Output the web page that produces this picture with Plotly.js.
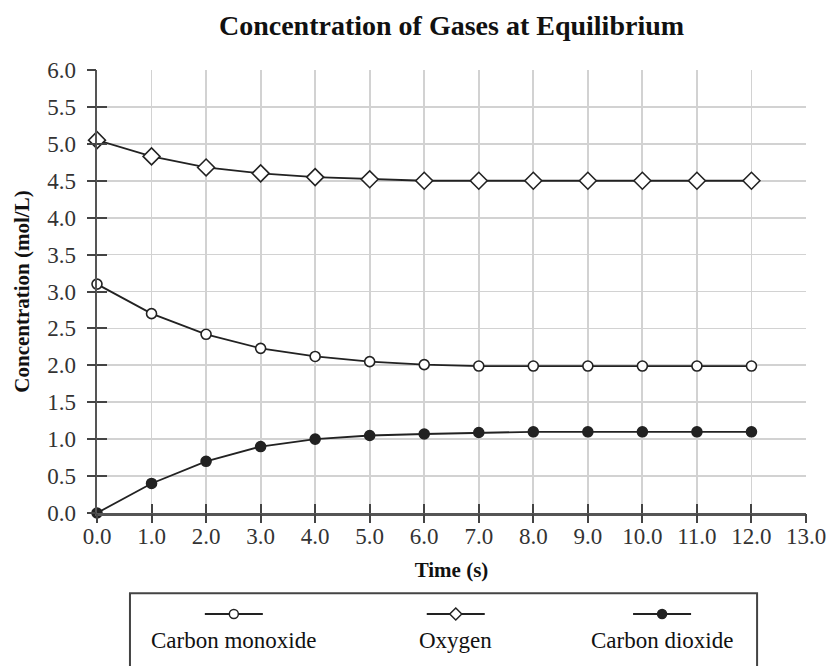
<!DOCTYPE html>
<html><head><meta charset="utf-8">
<script src="https://cdn.plot.ly/plotly-3.0.1.min.js"></script>
<style>body{margin:0;background:#fff}#chart{width:830px;height:666px}</style>
</head><body><div id="chart"></div>
<script>
const time = [0,1,2,3,4,5,6,7,8,9,10,11,12];
const carbonMonoxide = [3.1,2.7,2.42,2.23,2.12,2.05,2.01,1.99,1.99,1.99,1.99,1.99,1.99];
const oxygen = [5.05,4.83,4.68,4.6,4.55,4.52,4.5,4.5,4.5,4.5,4.5,4.5,4.5];
const carbonDioxide = [0,0.4,0.7,0.9,1.0,1.05,1.07,1.09,1.1,1.1,1.1,1.1,1.1];
const seriesNames = ["Carbon monoxide","Oxygen","Carbon dioxide"];
const xTicks = [0,1,2,3,4,5,6,7,8,9,10,11,12,13];
const yTicks = [0,0.5,1,1.5,2,2.5,3,3.5,4,4.5,5,5.5,6];

const serif = "Liberation Serif, Times New Roman, serif";
const ink = '#222';
const lineStyle = {color:ink, width:1.8};
function tr(y, name, sym, fill, size){
  return {x:time, y:y, name:name, type:'scatter', mode:'lines+markers',
    line:lineStyle, cliponaxis:false,
    marker:{symbol:sym, size:size, color:fill, line:{color:ink, width:1.6}}};
}
const data = [
  tr(carbonMonoxide, seriesNames[0], 'circle', '#fff', 10),
  tr(oxygen, seriesNames[1], 'diamond', '#fff', 13),
  tr(carbonDioxide, seriesNames[2], 'circle', ink, 10),
  // empty helper trace so the overlay axes (outer tick halves) get drawn
  {x:[], y:[], xaxis:'x2', yaxis:'y2', type:'scatter', mode:'markers', showlegend:false, hoverinfo:'skip'}
];

// custom legend (symbol above text)
const legX = [0.193, 0.506, 0.797];
const legSym = ['circle','diamond','filled'];
const shapes = [{type:'rect', xref:'paper', yref:'paper', x0:0.0465, x1:0.931, y0:-0.37, y1:-0.181,
  line:{color:'#444', width:2}, fillcolor:'rgba(0,0,0,0)'}];
const annotations = [];
legX.forEach((cx,i)=>{
  shapes.push({type:'line', xref:'paper', yref:'paper', xsizemode:'pixel', xanchor:cx, x0:-29, x1:29,
    y0:-0.228, y1:-0.228, line:{color:ink, width:1.8}});
  if (legSym[i]==='diamond'){
    shapes.push({type:'path', xref:'paper', yref:'paper', xsizemode:'pixel', ysizemode:'pixel',
      xanchor:cx, yanchor:-0.228, path:'M 0 6 L 6 0 L 0 -6 L -6 0 Z',
      line:{color:ink, width:1.5}, fillcolor:'#fff'});
  } else {
    shapes.push({type:'circle', xref:'paper', yref:'paper', xsizemode:'pixel', ysizemode:'pixel',
      xanchor:cx, yanchor:-0.228, x0:-4.5, x1:4.5, y0:-4.5, y1:4.5,
      line:{color:ink, width:1.5}, fillcolor: legSym[i]==='filled' ? ink : '#fff'});
  }
  annotations.push({xref:'paper', yref:'paper', x:cx, y:-0.287, text:seriesNames[i], showarrow:false,
    xanchor:'center', yanchor:'middle', font:{family:serif, size:23, color:'#111'}});
});

const gridC = '#d2d2d2';
const layout = {
  width:830, height:666,
  margin:{l:97, r:24, t:70, b:153},
  paper_bgcolor:'#fff', plot_bgcolor:'#fff',
  showlegend:false,
  title:{text:'<b>Concentration of Gases at Equilibrium</b>', x:0.5, xref:'paper', xanchor:'center',
    y:0.962, yanchor:'middle', font:{family:serif, size:28, color:'#111'}},
  xaxis:{range:[0,13], tickvals:xTicks, ticktext:xTicks.map(v=>v.toFixed(1)),
    showgrid:true, gridcolor:gridC, gridwidth:1.8, zeroline:false,
    showline:true, linecolor:'#555', linewidth:2.5, ticks:'inside', ticklen:9, tickcolor:'#444', tickwidth:2,
    ticklabelstandoff:1,
    tickfont:{family:serif, size:23, color:'#333'},
    title:{text:'<b>Time (s)</b>', font:{family:serif, size:21, color:'#111'}, standoff:14}},
  yaxis:{range:[0,6], tickvals:yTicks, ticktext:yTicks.map(v=>v.toFixed(1)),
    showgrid:true, gridcolor:gridC, gridwidth:1.8, zeroline:false,
    showline:true, linecolor:'#555', linewidth:2.5, ticks:'inside', ticklen:10, tickcolor:'#444', tickwidth:2,
    ticklabelstandoff:14,
    tickfont:{family:serif, size:23, color:'#333'},
    title:{text:'<b>Concentration (mol/L)</b>', font:{family:serif, size:21, color:'#111'}, standoff:12}},
  xaxis2:{overlaying:'x', range:[0,13], tickvals:xTicks, showticklabels:false, showgrid:false,
    zeroline:false, showline:false, ticks:'outside', ticklen:9, tickcolor:'#444', tickwidth:2, anchor:'y2'},
  yaxis2:{overlaying:'y', range:[0,6], tickvals:yTicks, showticklabels:false, showgrid:false,
    zeroline:false, showline:false, ticks:'outside', ticklen:9, tickcolor:'#444', tickwidth:2, anchor:'x2'},
  shapes:shapes, annotations:annotations
};
Plotly.newPlot('chart', data, layout, {displayModeBar:false, staticPlot:true});
</script></body></html>
